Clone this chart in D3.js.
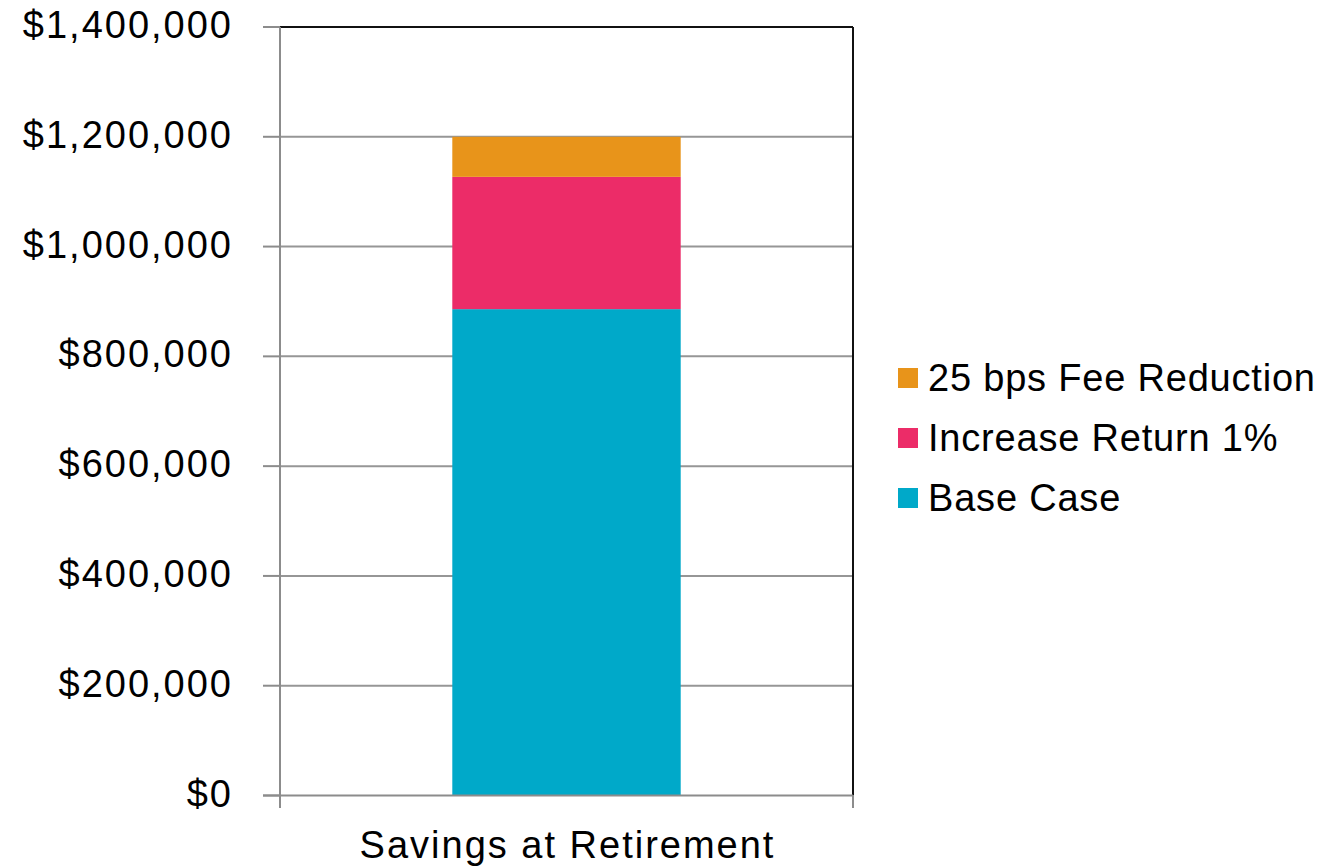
<!DOCTYPE html>
<html>
<head>
<meta charset="utf-8">
<script src="https://cdn.jsdelivr.net/npm/d3@7"></script>
<style>
  body { margin: 0; background: #fff; }
  text { font-family: "Liberation Sans", Arial, sans-serif; fill: #000; }
</style>
</head>
<body>
<svg id="chart" width="1338" height="868"></svg>
<script>
// data
const categories = ["Savings at Retirement"];
const seriesNames = ["Base Case", "Increase Return 1%", "25 bps Fee Reduction"];
const baseCase = [886000];
const increaseReturn = [241000];
const feeReduction = [73000];
const yTicks = [0, 200000, 400000, 600000, 800000, 1000000, 1200000, 1400000];
const colors = ["#00A9C9", "#EC2C68", "#E8941A"];

const svg = d3.select("#chart");
const plotLeft = 280, plotRight = 853, plotTop = 27, plotBottom = 795.5;

const y = d3.scaleLinear().domain([0, 1400000]).range([plotBottom, plotTop]);
const x = d3.scaleBand().domain(categories).range([plotLeft, plotRight]).padding(0.43);

const rows = categories.map((c, i) => ({
  cat: c,
  "Base Case": baseCase[i],
  "Increase Return 1%": increaseReturn[i],
  "25 bps Fee Reduction": feeReduction[i]
}));
const stacked = d3.stack().keys(seriesNames)(rows);

// gridlines
svg.append("g").selectAll("line")
  .data(yTicks.filter(d => d > 0 && d < 1400000))
  .enter().append("line")
  .attr("x1", plotLeft).attr("x2", plotRight)
  .attr("y1", d => y(d)).attr("y2", d => y(d))
  .attr("stroke", "#969696").attr("stroke-width", 2);

// bars
svg.append("g").selectAll("g")
  .data(stacked)
  .enter().append("g")
  .attr("fill", (d, i) => colors[i])
  .selectAll("rect")
  .data(d => d)
  .enter().append("rect")
  .attr("x", d => x(d.data.cat))
  .attr("width", x.bandwidth())
  .attr("y", d => y(d[1]))
  .attr("height", d => y(d[0]) - y(d[1]));

// frame: top and right dark
svg.append("line").attr("x1", plotLeft).attr("x2", plotRight).attr("y1", plotTop).attr("y2", plotTop)
  .attr("stroke", "#111").attr("stroke-width", 2);
svg.append("line").attr("x1", plotRight).attr("x2", plotRight).attr("y1", plotTop).attr("y2", plotBottom)
  .attr("stroke", "#111").attr("stroke-width", 2);

// y axis
const yAxis = svg.append("g");
yAxis.append("line").attr("x1", plotLeft).attr("x2", plotLeft).attr("y1", plotTop).attr("y2", plotBottom)
  .attr("stroke", "#8c8c8c").attr("stroke-width", 2);
yAxis.selectAll(".tick").data(yTicks).enter().append("line")
  .attr("x1", 263).attr("x2", plotLeft)
  .attr("y1", d => y(d)).attr("y2", d => y(d))
  .attr("stroke", "#8c8c8c").attr("stroke-width", 2);
yAxis.selectAll(".lbl").data(yTicks).enter().append("text")
  .attr("text-anchor", "end")
  .attr("font-size", 38)
  .attr("letter-spacing", 2)
  .attr("x", 233)
  .attr("y", d => y(d) + 11)
  .text(d => "$" + d3.format(",")(d));

// x axis
const xAxis = svg.append("g");
xAxis.append("line").attr("x1", 263).attr("x2", plotRight).attr("y1", plotBottom).attr("y2", plotBottom)
  .attr("stroke", "#8c8c8c").attr("stroke-width", 2);
xAxis.selectAll(".tick").data([plotLeft, plotRight]).enter().append("line")
  .attr("x1", d => d).attr("x2", d => d).attr("y1", plotBottom).attr("y2", 808)
  .attr("stroke", "#8c8c8c").attr("stroke-width", 2);
xAxis.selectAll(".lbl").data(categories).enter().append("text")
  .attr("text-anchor", "middle")
  .attr("font-size", 38)
  .attr("letter-spacing", 2)
  .attr("x", d => x(d) + x.bandwidth() / 2 + 1)
  .attr("y", 858)
  .text(d => d);

// legend (reverse order)
const legendItems = seriesNames.map((n, i) => ({ name: n, color: colors[i] })).reverse();
const legend = svg.append("g").selectAll("g")
  .data(legendItems)
  .enter().append("g")
  .attr("transform", (d, i) => `translate(898,${368 + i * 60})`);
legend.append("rect").attr("width", 20).attr("height", 20).attr("fill", d => d.color);
legend.append("text")
  .attr("font-size", 38)
  .attr("letter-spacing", 0.8)
  .attr("x", 30)
  .attr("y", 23)
  .text(d => d.name);
</script>
</body>
</html>
